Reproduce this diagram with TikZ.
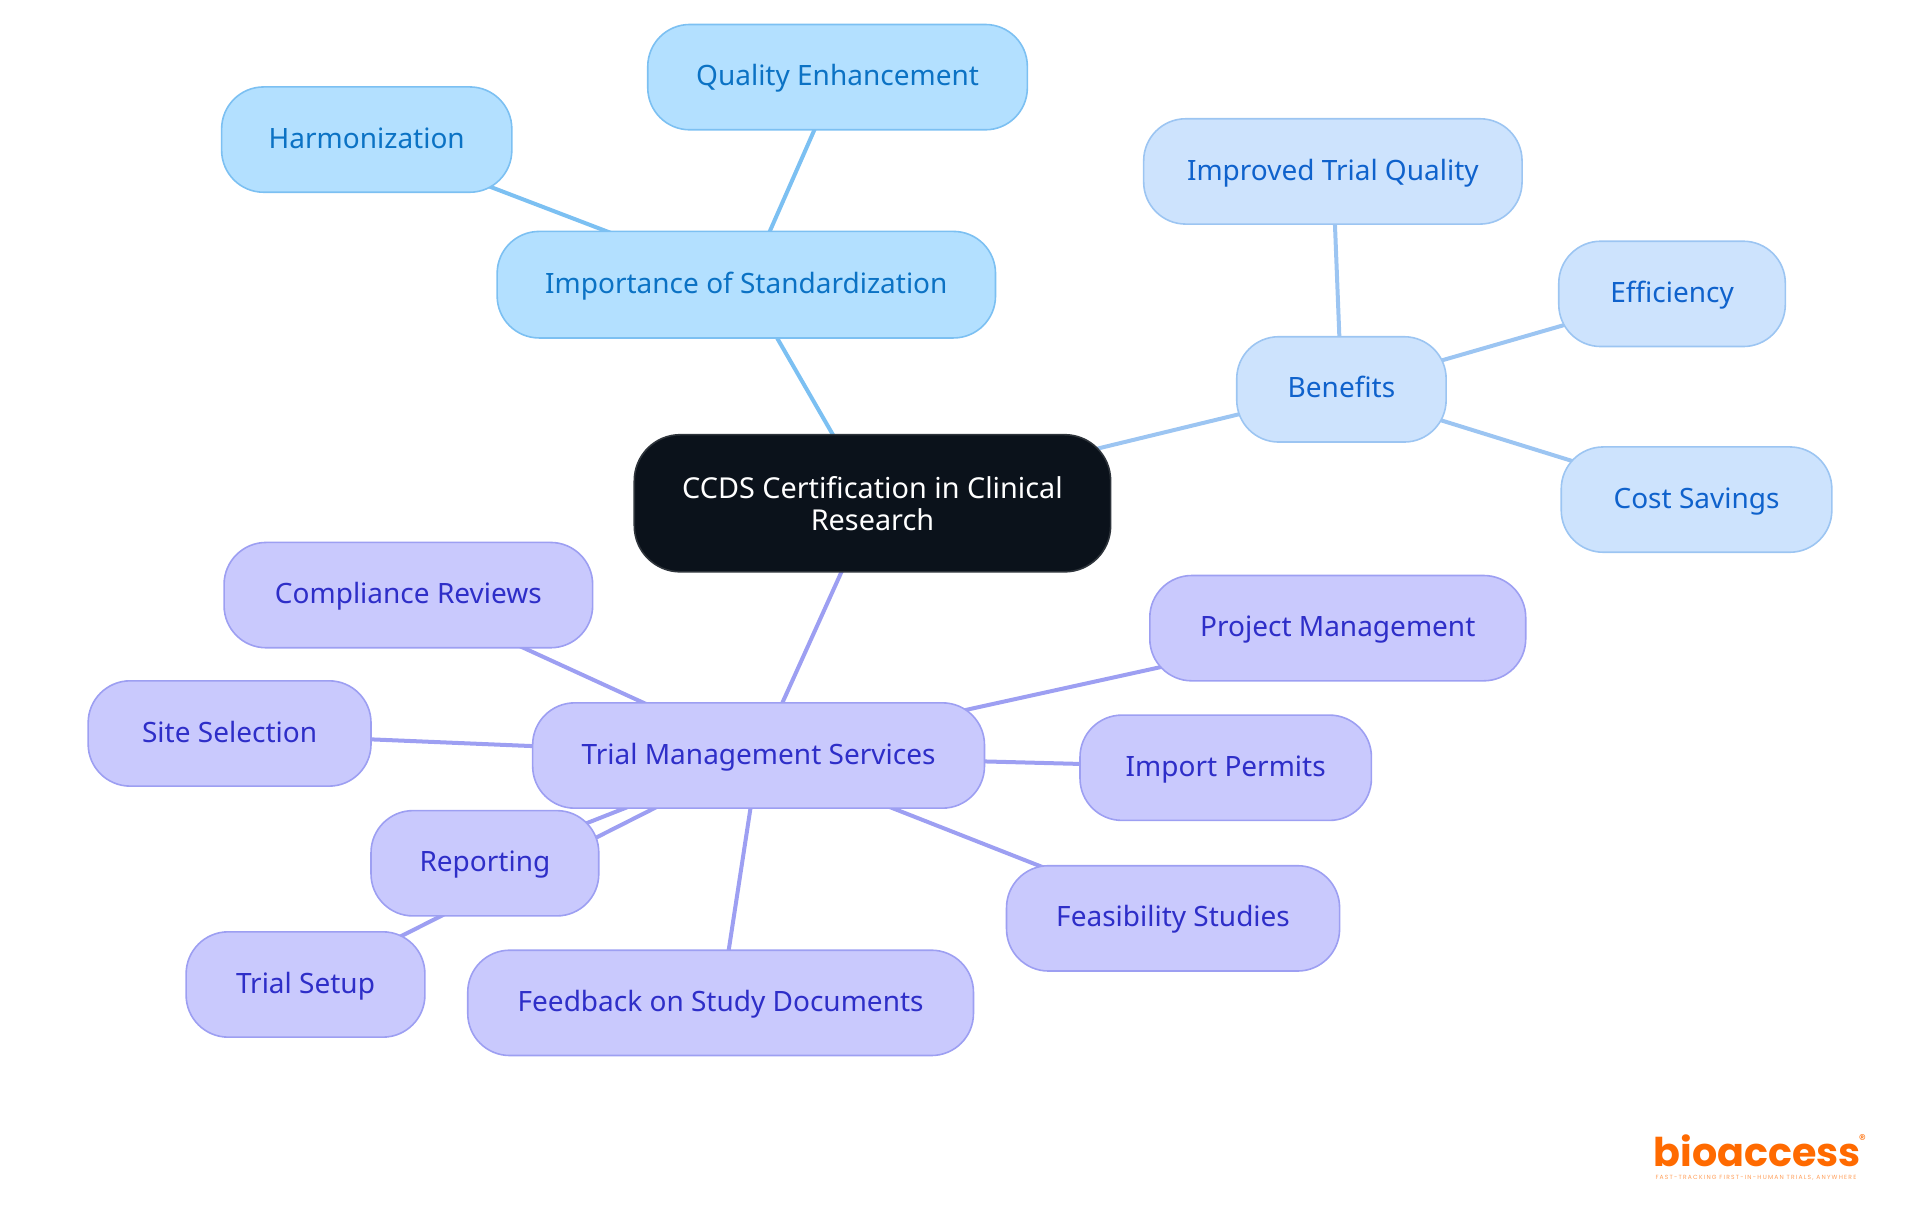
\documentclass[tikz,border=0pt]{standalone}
\usepackage{fontspec}
\setmainfont{Noto Sans}
\newfontfamily\logofont{Poppins}
\newfontfamily\tagfont[LetterSpace=20]{Poppins}
\usetikzlibrary{backgrounds}
\definecolor{rootfill}{HTML}{0B121B}\definecolor{rootline}{HTML}{2E343B}
\definecolor{afill}{HTML}{B3E0FF}\definecolor{aline}{HTML}{7CC0F2}\definecolor{atext}{HTML}{0B72C4}
\definecolor{bfill}{HTML}{CDE3FD}\definecolor{bline}{HTML}{9CC5F2}\definecolor{btext}{HTML}{0F62CC}
\definecolor{cfill}{HTML}{C9C9FD}\definecolor{cline}{HTML}{9D9FF2}\definecolor{ctext}{HTML}{2E2EC8}
\definecolor{logoor}{HTML}{FF6A00}
\tikzset{
 box/.style={rectangle,rounded corners=21pt,line width=.8pt,inner sep=0pt,align=center,font=\fontsize{14}{16}\selectfont},
 oneline/.style={box,text height=10.8pt,text depth=2.2pt},
 rootbox/.style={box,rounded corners=23pt,fill=rootfill,draw=rootline,text=white,font=\fontsize{14.4}{16}\selectfont},
 abox/.style={oneline,fill=afill,draw=aline,text=atext},
 bbox/.style={oneline,fill=bfill,draw=bline,text=btext},
 cbox/.style={oneline,fill=cfill,draw=cline,text=ctext},
 aedge/.style={draw=aline,line width=2pt},
 bedge/.style={draw=bline,line width=2pt},
 cedge/.style={draw=cline,line width=2pt},
}
\newcommand{\nd}[7]{%
 \pgfmathsetmacro{\boxw}{(#4-#3)*0.6122}\pgfmathsetmacro{\boxh}{(#6-#5)*0.6122}%
 \node[#2,minimum width=\boxw pt,minimum height=\boxh pt] (#1) at ({(#3+#4)/2},{(#5+#6)/2}) {#7};}
\begin{document}
\begin{tikzpicture}[x=0.6122pt,y=-0.6122pt]
\useasboundingbox (0,0) rectangle (1568,992.2);
\nd{root}{rootbox}{518}{907}{355}{467}{CCDS Certification in Clinical\\Research}
\nd{imp}{abox}{406}{813}{189}{276}{Importance of Standardization}
\nd{qual}{abox}{529}{839}{20}{106}{Quality Enhancement}
\nd{harm}{abox}{181}{418}{71}{157}{Harmonization}
\nd{ben}{bbox}{1010}{1181}{275}{361}{Benefits}
\nd{trialq}{bbox}{934}{1243}{97}{183}{Improved Trial Quality}
\nd{eff}{bbox}{1273}{1458}{197}{283}{Efficiency}
\nd{cost}{bbox}{1275}{1496}{365}{451}{Cost Savings}
\nd{tms}{cbox}{435}{804}{574}{660}{Trial Management Services}
\nd{comp}{cbox}{183}{484}{443}{529}{Compliance Reviews}
\nd{site}{cbox}{72}{303}{556}{642}{Site Selection}
\nd{proj}{cbox}{939}{1246}{470}{556}{Project Management}
\nd{perm}{cbox}{882}{1120}{584}{670}{Import Permits}
\nd{feas}{cbox}{822}{1094}{707}{793}{Feasibility Studies}
\nd{rep}{cbox}{303}{489}{662}{748}{Reporting}
\nd{setup}{cbox}{152}{347}{761}{847}{Trial Setup}
\nd{fb}{cbox}{382}{795}{776}{862}{Feedback on Study Documents}
\begin{pgfonlayer}{background}
\draw[aedge] (root.center)--(imp.center);
\draw[aedge] (imp.center)--(qual.center);
\draw[aedge] (imp.center)--(harm.center);
\draw[bedge] (root.center)--(ben.center);
\draw[bedge] (ben.center)--(trialq.center);
\draw[bedge] (ben.center)--(eff.center);
\draw[bedge] (ben.center)--(cost.center);
\draw[cedge] (root.center)--(tms.center);
\foreach \t in {comp,site,proj,perm,feas,rep,setup,fb}{\draw[cedge] (tms.center)--(\t.center);}
\end{pgfonlayer}
\node[anchor=base west,inner sep=0pt,text=logoor,font=\logofont\bfseries\fontsize{19.8}{20}\selectfont] (logo) at (1350,953) {bioaccess};
\node[anchor=center,inner sep=0pt,text=logoor,font=\logofont\fontsize{7}{7}\selectfont] (reg) at (1521,931) {®};
\node[anchor=center,inner sep=0pt,text=logoor!65,font=\tagfont\fontsize{3}{3}\selectfont] (tag) at (1434,961.5) {FAST-TRACKING FIRST-IN-HUMAN TRIALS, ANYWHERE};
\end{tikzpicture}
\end{document}
